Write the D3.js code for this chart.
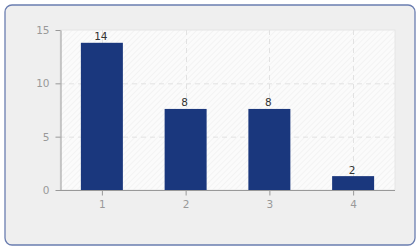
<!DOCTYPE html>
<html><head><meta charset="utf-8">
<script src="https://cdn.jsdelivr.net/npm/d3@7"></script>
<style>html,body{margin:0;padding:0;background:#fff;}svg{display:block;font-family:"DejaVu Sans",sans-serif;}</style>
</head><body>
<svg id="c" width="420" height="250"></svg>
<script>
const categories = [1, 2, 3, 4];
const values = [13.8, 7.6, 7.6, 1.3];
const valueLabels = ["14", "8", "8", "2"];
const yTicks = [0, 5, 10, 15];

const svg = d3.select("#c");
const defs = svg.append("defs");
const pat = defs.append("pattern").attr("id","hatch").attr("patternUnits","userSpaceOnUse")
  .attr("width",4).attr("height",4).attr("patternTransform","rotate(45)");
pat.append("rect").attr("width",4).attr("height",4).attr("fill","#fbfbfb");
pat.append("line").attr("x1",0).attr("y1",0).attr("x2",0).attr("y2",4).attr("stroke","#ececec").attr("stroke-width",1);

svg.append("rect").attr("x",5).attr("y",5).attr("width",410).attr("height",240).attr("rx",7)
  .attr("fill","#efefef").attr("stroke","#6a7db0").attr("stroke-width",1.3);

const L=60, R=395, T=30, B=190;
const x = d3.scaleLinear().domain([0.5, 4.5]).range([L, R]);
const y = d3.scaleLinear().domain([0, 15]).range([B, T]);

svg.append("rect").attr("x",L).attr("y",T).attr("width",R-L).attr("height",B-T).attr("fill","url(#hatch)");
svg.append("rect").attr("x",L).attr("y",T).attr("width",R-L).attr("height",B-T).attr("fill","none").attr("stroke","#e6e6e6");

// grid
svg.append("g").selectAll("line").data(yTicks.filter(d=>d>0 && d<15)).join("line")
  .attr("x1",L).attr("x2",R).attr("y1",d=>y(d)+0.5).attr("y2",d=>y(d)+0.5)
  .attr("stroke","#e2e2e2").attr("stroke-dasharray","5,4");
svg.append("g").selectAll("line").data(categories).join("line")
  .attr("y1",T).attr("y2",B).attr("x1",d=>Math.round(x(d))+0.5).attr("x2",d=>Math.round(x(d))+0.5)
  .attr("stroke","#e2e2e2").attr("stroke-dasharray","5,4");

// bars
const bw = 42;
svg.append("g").selectAll("rect").data(values).join("rect")
  .attr("x",(d,i)=>x(categories[i])-bw/2).attr("width",bw)
  .attr("y",d=>y(d)).attr("height",d=>B-y(d)).attr("fill","#1a377d");

svg.append("g").selectAll("text").data(values).join("text")
  .attr("x",(d,i)=>x(categories[i])-1).attr("y",d=>y(d)-2.5)
  .attr("text-anchor","middle").attr("font-size",10.5).attr("fill","#333")
  .text((d,i)=>valueLabels[i]);

// axes
const yAxis = d3.axisLeft(y).tickValues(yTicks).tickSize(5).tickPadding(6).tickSizeOuter(0);
const gy = svg.append("g").attr("transform",`translate(${L+0.5},0)`).call(yAxis);
const xAxis = d3.axisBottom(x).tickValues(categories).tickSize(5).tickPadding(5).tickSizeOuter(0).tickFormat(d3.format("d"));
const gx = svg.append("g").attr("transform",`translate(0,${B+0.5})`).call(xAxis);
[gx,gy].forEach(g=>{
  g.selectAll("path,line").attr("stroke","#999");
  g.selectAll("text").attr("fill","#999").attr("font-size",10.5).attr("font-family","'DejaVu Sans',sans-serif");
});
gx.select(".domain").attr("d",`M${L},0H${R}`);
</script>
</body></html>
